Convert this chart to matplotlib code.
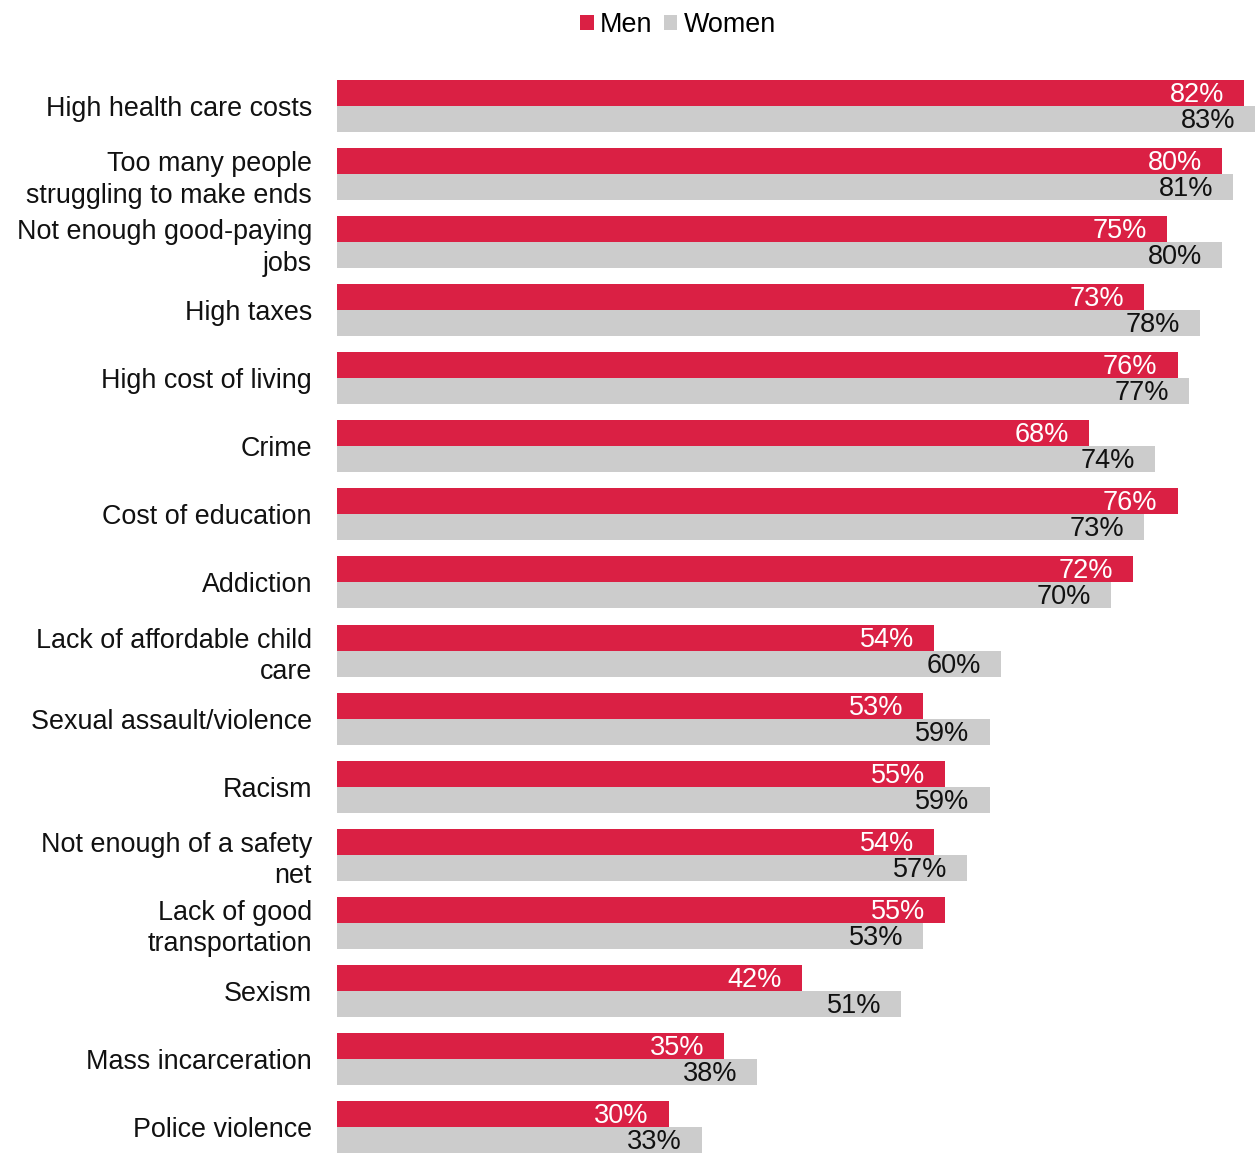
import matplotlib
matplotlib.use("Agg")
import matplotlib.pyplot as plt
from matplotlib.patches import Patch
from matplotlib.transforms import offset_copy
import numpy as np

plt.rcParams['font.family'] = ['Liberation Sans', 'DejaVu Sans']

categories = [
    "High health care costs",
    "Too many people\nstruggling to make ends",
    "Not enough good-paying\njobs",
    "High taxes",
    "High cost of living",
    "Crime",
    "Cost of education",
    "Addiction",
    "Lack of affordable child\ncare",
    "Sexual assault/violence",
    "Racism",
    "Not enough of a safety\nnet",
    "Lack of good\ntransportation",
    "Sexism",
    "Mass incarceration",
    "Police violence",
]
men = [82, 80, 75, 73, 76, 68, 76, 72, 54, 53, 55, 54, 55, 42, 35, 30]
women = [83, 81, 80, 78, 77, 74, 73, 70, 60, 59, 59, 57, 53, 51, 38, 33]
series_names = ["Men", "Women"]

RED = "#DA2044"
GRAY = "#CCCCCC"

W, H = 1255, 1153
fig = plt.figure(figsize=(W / 100, H / 100), dpi=100)
ax_left = 337 / W
ax_top_px = 80
ax = fig.add_axes([ax_left, 0, 1 - ax_left, (H - ax_top_px) / H])

n = len(categories)
y = np.arange(n)
bh = 26 / 68
ax.barh(y - bh / 2, men, height=bh, color=RED, label=series_names[0])
ax.barh(y + bh / 2, women, height=bh, color=GRAY, label=series_names[1])

ax.set_xlim(0, 83)
ax.set_ylim(n - 1 + bh, -bh)
for s in ax.spines.values():
    s.set_visible(False)
ax.set_xticks([])
ax.set_yticks(y)
ax.set_yticklabels(categories, fontsize=19.4, linespacing=1.28, color="#111111")
ax.tick_params(axis="y", length=0, pad=18)

tr_m = offset_copy(ax.transData, fig=fig, x=-20, y=-2, units="dots")
for i, v in enumerate(men):
    ax.text(v, i - bh / 2, f"{v}%", color="white", fontsize=19.5,
            ha="right", va="center", transform=tr_m)
    ax.text(women[i], i + bh / 2, f"{women[i]}%", color="#111111", fontsize=19.5,
            ha="right", va="center", transform=tr_m)

handles = [Patch(facecolor=RED, label=series_names[0]),
           Patch(facecolor=GRAY, label=series_names[1])]
fig.legend(handles=handles, loc="upper center", bbox_to_anchor=(678 / W, 1.0 + 4 / H),
           ncol=2, frameon=False, fontsize=19.4, handlelength=0.5, handleheight=0.5,
           handletextpad=0.25, columnspacing=0.4, borderaxespad=0.2)

fig.savefig("out.png", dpi=100)
